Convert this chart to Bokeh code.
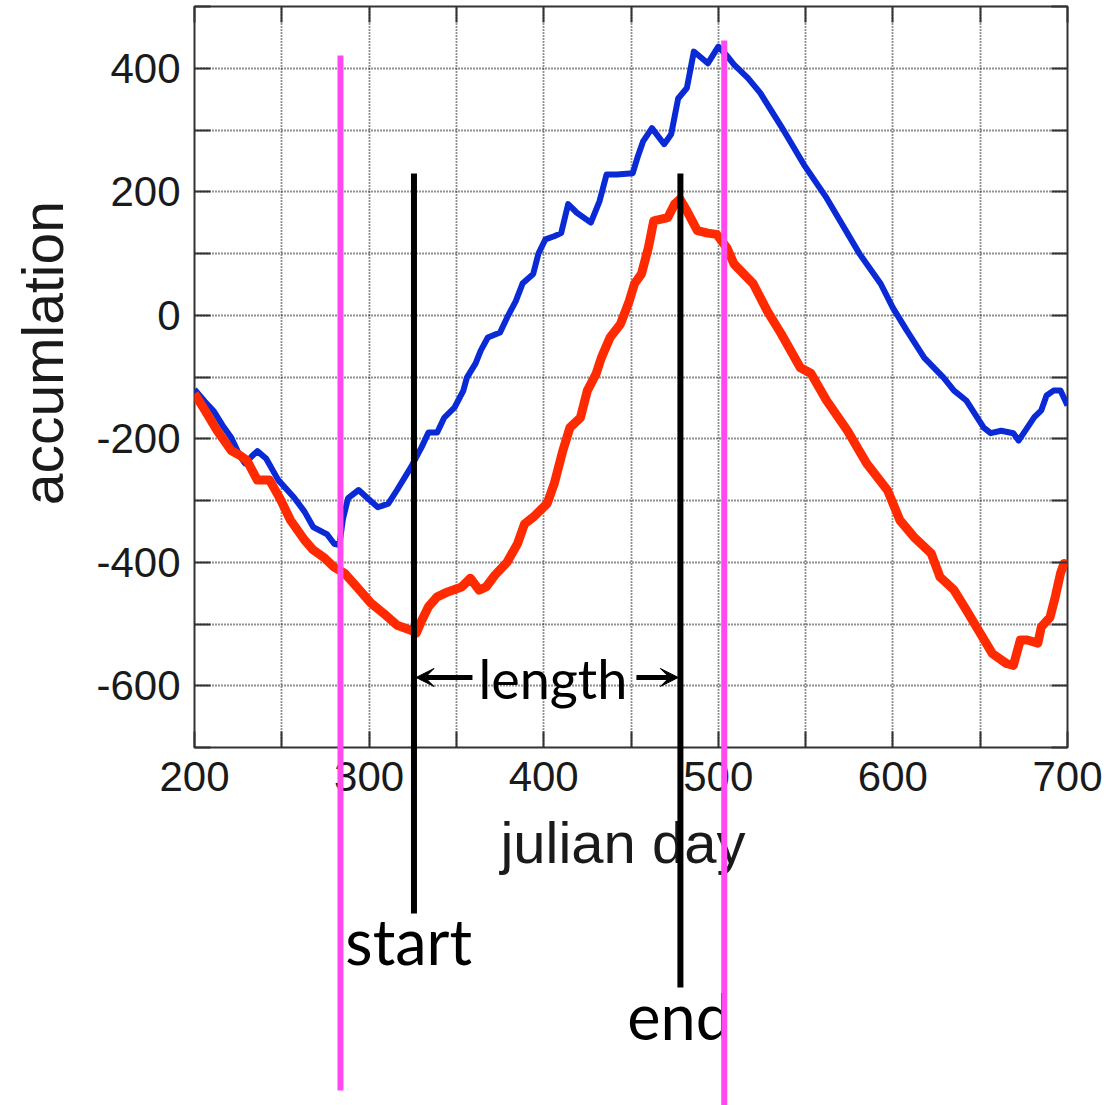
from bokeh.plotting import figure
from bokeh.models import Range1d, FixedTicker, LinearAxis, Arrow, VeeHead
from bokeh.core.properties import value
from bokeh.embed import file_html
from bokeh.resources import INLINE

# ---- data ----
blue_day = [200, 206, 211, 216, 221, 226, 229, 233, 236, 241, 248, 257, 263, 268, 276, 280, 283,
            285, 288, 294, 299, 305, 311, 316, 324, 330, 334, 339, 343, 349, 354, 356, 361, 364,
            368, 375, 379, 384, 388, 394, 397, 401, 406, 410, 414, 419, 427, 432, 436, 442, 451,
            454, 457, 462, 469, 473, 477, 482, 486, 494, 500, 505, 509, 517, 524, 536, 549, 562,
            581, 593, 600, 608, 618, 629, 635, 642, 652, 656, 662, 669, 672, 677, 681, 685, 688,
            692, 696, 700]
blue_acc = [-120, -140, -155, -178, -198, -228, -240, -228, -220, -232, -267, -295, -318, -343,
            -355, -370, -372, -330, -296, -283, -296, -311, -305, -283, -246, -214, -190, -190,
            -166, -149, -122, -101, -78, -57, -36, -28, -4, 23, 52, 67, 100, 123, 128, 133, 180,
            166, 150, 185, 228, 228, 230, 258, 282, 303, 277, 293, 351, 368, 427, 408, 435, 420,
            406, 384, 360, 306, 244, 190, 99, 51, 12, -25, -69, -101, -122, -138, -182, -191,
            -187, -191, -203, -182, -165, -154, -130, -122, -122, -146]

red_day = [200, 206, 213, 221, 226, 230, 236, 243, 249, 255, 263, 268, 274, 280, 286, 293, 301,
           308, 316, 324, 327, 330, 334, 339, 345, 353, 358, 363, 367, 372, 379, 385, 389, 394,
           402, 406, 411, 415, 421, 425, 430, 433, 438, 444, 449, 452, 456, 460, 463, 471, 475,
           478, 482, 488, 494, 499, 505, 509, 520, 528, 536, 547, 553, 562, 574, 585, 597, 604,
           612, 622, 627, 635, 642, 650, 657, 665, 669, 673, 677, 683, 685, 690, 693, 696, 698,
           700]
red_acc = [-127, -154, -187, -219, -227, -235, -267, -267, -297, -332, -364, -380, -392, -408,
           -418, -440, -466, -482, -502, -510, -515, -495, -472, -456, -448, -440, -426, -445,
           -440, -421, -400, -370, -338, -327, -305, -273, -219, -182, -166, -122, -95, -69, -36,
           -14, 23, 51, 67, 110, 153, 158, 180, 188, 169, 137, 133, 131, 109, 83, 51, 7, -30,
           -85, -94, -138, -187, -240, -284, -332, -359, -386, -424, -445, -477, -515, -548,
           -564, -567, -526, -526, -531, -505, -489, -456, -418, -402, -405]

x_major = [200, 300, 400, 500, 600, 700]
x_minor = [250, 350, 450, 550, 650]
y_major = [-600, -400, -200, 0, 200, 400]
y_major_labels = ["-600", "-400", "-200", "0", "200", "400"]
y_minor = [-700, -500, -300, -100, 100, 300, 500]

# annotated days
start_day = 325.7
end_day = 478.3
bound_days = [283.6, 503.4]
ann_words = ["start", "end"]
length_word = ["length"]

FONT = "Liberation Sans"
ANN_FONT = "Lato"
BLUE = "#0a2ad6"
RED = "#ff2a00"
MAGENTA = "#ff4af0"
NB = "\u00a0"

p = figure(width=1109, height=1105, output_backend="svg", toolbar_location=None,
           x_range=Range1d(200, 700), y_range=Range1d(-700, 500),
           min_border_left=194, min_border_right=42, min_border_top=6, min_border_bottom=358,
           x_axis_label="julian day" + NB, y_axis_label=NB * 3 + "accumlation")
p.outline_line_color = "#333333"
p.outline_line_width = 2
p.background_fill_color = "white"
p.border_fill_color = "white"


def style_axis(ax, labels=True):
    ax.axis_line_color = None
    ax.major_tick_in = 16
    ax.major_tick_out = 0
    ax.minor_tick_in = 16
    ax.minor_tick_out = 0
    ax.major_tick_line_color = "#333333"
    ax.minor_tick_line_color = "#333333"
    ax.major_tick_line_width = 2
    ax.minor_tick_line_width = 2
    if labels:
        ax.major_label_text_font = FONT
        ax.major_label_text_font_size = "42px"
        ax.major_label_text_color = "#1a1a1a"
        ax.major_label_standoff = 14
        ax.axis_label_text_font = FONT
        ax.axis_label_text_font_style = "normal"
        ax.axis_label_text_color = "#1a1a1a"


p.xaxis.ticker = FixedTicker(ticks=x_major, minor_ticks=x_minor)
p.yaxis.ticker = FixedTicker(ticks=y_major, minor_ticks=y_minor)
p.yaxis.major_label_overrides = dict(zip(y_major, y_major_labels))
style_axis(p.xaxis[0])
style_axis(p.yaxis[0])
p.xaxis.axis_label_text_font_size = "58px"
p.yaxis.axis_label_text_font_size = "57px"
p.xaxis.axis_label_standoff = 16
p.yaxis.axis_label_standoff = 18

top_ax = LinearAxis(ticker=FixedTicker(ticks=[], minor_ticks=sorted(x_major + x_minor)))
right_ax = LinearAxis(ticker=FixedTicker(ticks=[], minor_ticks=sorted(y_major + y_minor)))
style_axis(top_ax, labels=False)
style_axis(right_ax, labels=False)
p.add_layout(top_ax, "above")
p.add_layout(right_ax, "right")

for g in (p.xgrid[0], p.ygrid[0]):
    g.grid_line_color = "#222222"
    g.grid_line_dash = "1 2"
    g.grid_line_width = 1.8
    g.minor_grid_line_color = "#222222"
    g.minor_grid_line_dash = "1 2"
    g.minor_grid_line_width = 1.8

p.line(blue_day, blue_acc, line_color=BLUE, line_width=6, line_join="round")
p.line(red_day, red_acc, line_color=RED, line_width=9, line_join="round")

# length arrows (inside the frame)
for x0, x1 in [(359.2, start_day + 1.2), (453.1, end_day - 1.2)]:
    p.add_layout(Arrow(x_start=x0, y_start=-586.6, x_end=x1, y_end=-586.6,
                       line_width=5, line_color="black",
                       end=VeeHead(size=18, fill_color="black", line_color="black")))

# annotation texts and marker lines (drawn on the overlay level so they may leave the frame)
p.text(x=[286.4, 447.9], y=[-1012.4, -1134], text=ann_words, text_font=value(ANN_FONT),
       text_font_size="63px", text_color="black", text_align="left",
       text_baseline="alphabetic", level="overlay")
p.text(x=[362.6], y=[-588.3], text=length_word, text_font=value(ANN_FONT),
       text_font_size="54px", text_color="black", text_align="left",
       text_baseline="alphabetic", level="overlay")
p.segment(x0=[start_day, end_day], y0=[229.6, 229.6], x1=[start_day, end_day],
          y1=[-968.8, -1088.7], line_color="black", line_width=6, level="overlay")
p.segment(x0=bound_days, y0=[420.6, 445], x1=bound_days, y1=[-1255.5, -1300],
          line_color=MAGENTA, line_width=6, level="overlay")

open("out.html", "w").write(file_html(p, INLINE))
